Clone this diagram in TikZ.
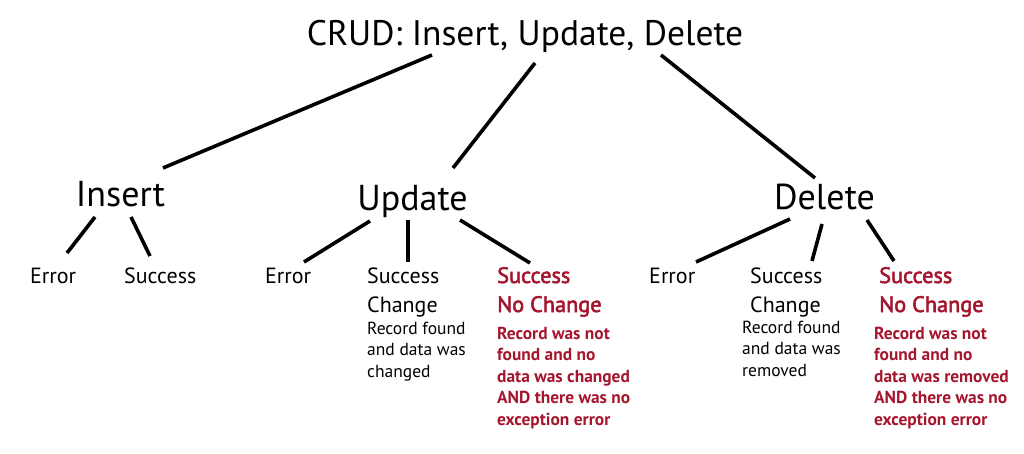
\documentclass[tikz,border=0pt]{standalone}
\usepackage{fontspec}
\setmainfont{PT Sans}
\newfontfamily\semibf[FakeBold=2.5]{PT Sans}
\definecolor{crimson}{RGB}{165,22,46}
\tikzset{
  conn/.style={line width=3.6pt, black},
  big/.style={font=\fontsize{35.5}{40}\selectfont, inner sep=0pt},
  mid/.style={font=\fontsize{36}{38}\selectfont, inner sep=0pt},
  leaf/.style={font=\fontsize{22}{29}\selectfont, inner sep=0pt, align=left},
  note/.style={font=\fontsize{17.5}{21.5}\selectfont, inner sep=0pt, align=left},
  redleaf/.style={leaf, text=crimson, font=\semibf\fontsize{22.3}{29}\selectfont},
  rednote/.style={note, text=crimson, font=\fontsize{17.4}{21.5}\selectfont\bfseries},
}
\begin{document}
\begin{tikzpicture}[x=1pt,y=-1pt]
\useasboundingbox (0,0) rectangle (1024,454);
% title and level 2
\node[big, anchor=base] (title) at (525,46) {CRUD: Insert, Update, Delete};
\node[mid, anchor=base] (ins) at (120.5,207) {Insert};
\node[mid, anchor=base] (upd) at (412.5,211) {Update};
\node[mid, anchor=base] (del) at (824.5,210) {Delete};
% leaves (anchored at the baseline of their last line)
\node[leaf, anchor=base west] (insErr) at (30,283) {Error};
\node[leaf, anchor=base west] (insOk) at (124,283) {Success};
\node[leaf, anchor=base west] (updErr) at (265,283) {Error};
\node[leaf, anchor=base west] (updOk) at (367,312) {Success\\Change};
\node[note, anchor=base west] (updOkN) at (367,377) {Record found\\and data was\\changed};
\node[redleaf, anchor=base west] (updNo) at (497,312) {Success\\No Change};
\node[rednote, anchor=base west] (updNoN) at (497,425) {Record was not\\found and no\\data was changed\\AND there was no\\exception error};
\node[leaf, anchor=base west] (delErr) at (649,283) {Error};
\node[leaf, anchor=base west] (delOk) at (750,312) {Success\\Change};
\node[note, anchor=base west] (delOkN) at (742,376) {Record found\\and data was\\removed};
\node[redleaf, anchor=base west] (delNo) at (879,312) {Success\\No Change};
\node[rednote, anchor=base west] (delNoN) at (874,425) {Record was not\\found and no\\data was removed\\AND there was no\\exception error};
% connector end points
\coordinate (tA) at (432,55);  \coordinate (insT) at (163,168);
\coordinate (tB) at (535,63);  \coordinate (updT) at (453,168);
\coordinate (tC) at (661,55);  \coordinate (delT) at (815,178);
\coordinate (insA) at (95,217);  \coordinate (insErrT) at (67,253);
\coordinate (insB) at (131,217); \coordinate (insOkT) at (150,256);
\coordinate (updA) at (370,221); \coordinate (updErrT) at (304,262);
\coordinate (updB) at (408,220); \coordinate (updOkT) at (408,262);
\coordinate (updC) at (460,220); \coordinate (updNoT) at (530,263);
\coordinate (delA) at (790,219); \coordinate (delErrT) at (696,262);
\coordinate (delB) at (822,224); \coordinate (delOkT) at (812,261);
\coordinate (delC) at (867,220); \coordinate (delNoT) at (894,261);
% connectors
\draw[conn] (tA) -- (insT);
\draw[conn] (tB) -- (updT);
\draw[conn] (tC) -- (delT);
\draw[conn] (insA) -- (insErrT);
\draw[conn] (insB) -- (insOkT);
\draw[conn] (updA) -- (updErrT);
\draw[conn] (updB) -- (updOkT);
\draw[conn] (updC) -- (updNoT);
\draw[conn] (delA) -- (delErrT);
\draw[conn] (delB) -- (delOkT);
\draw[conn] (delC) -- (delNoT);
\end{tikzpicture}
\end{document}
